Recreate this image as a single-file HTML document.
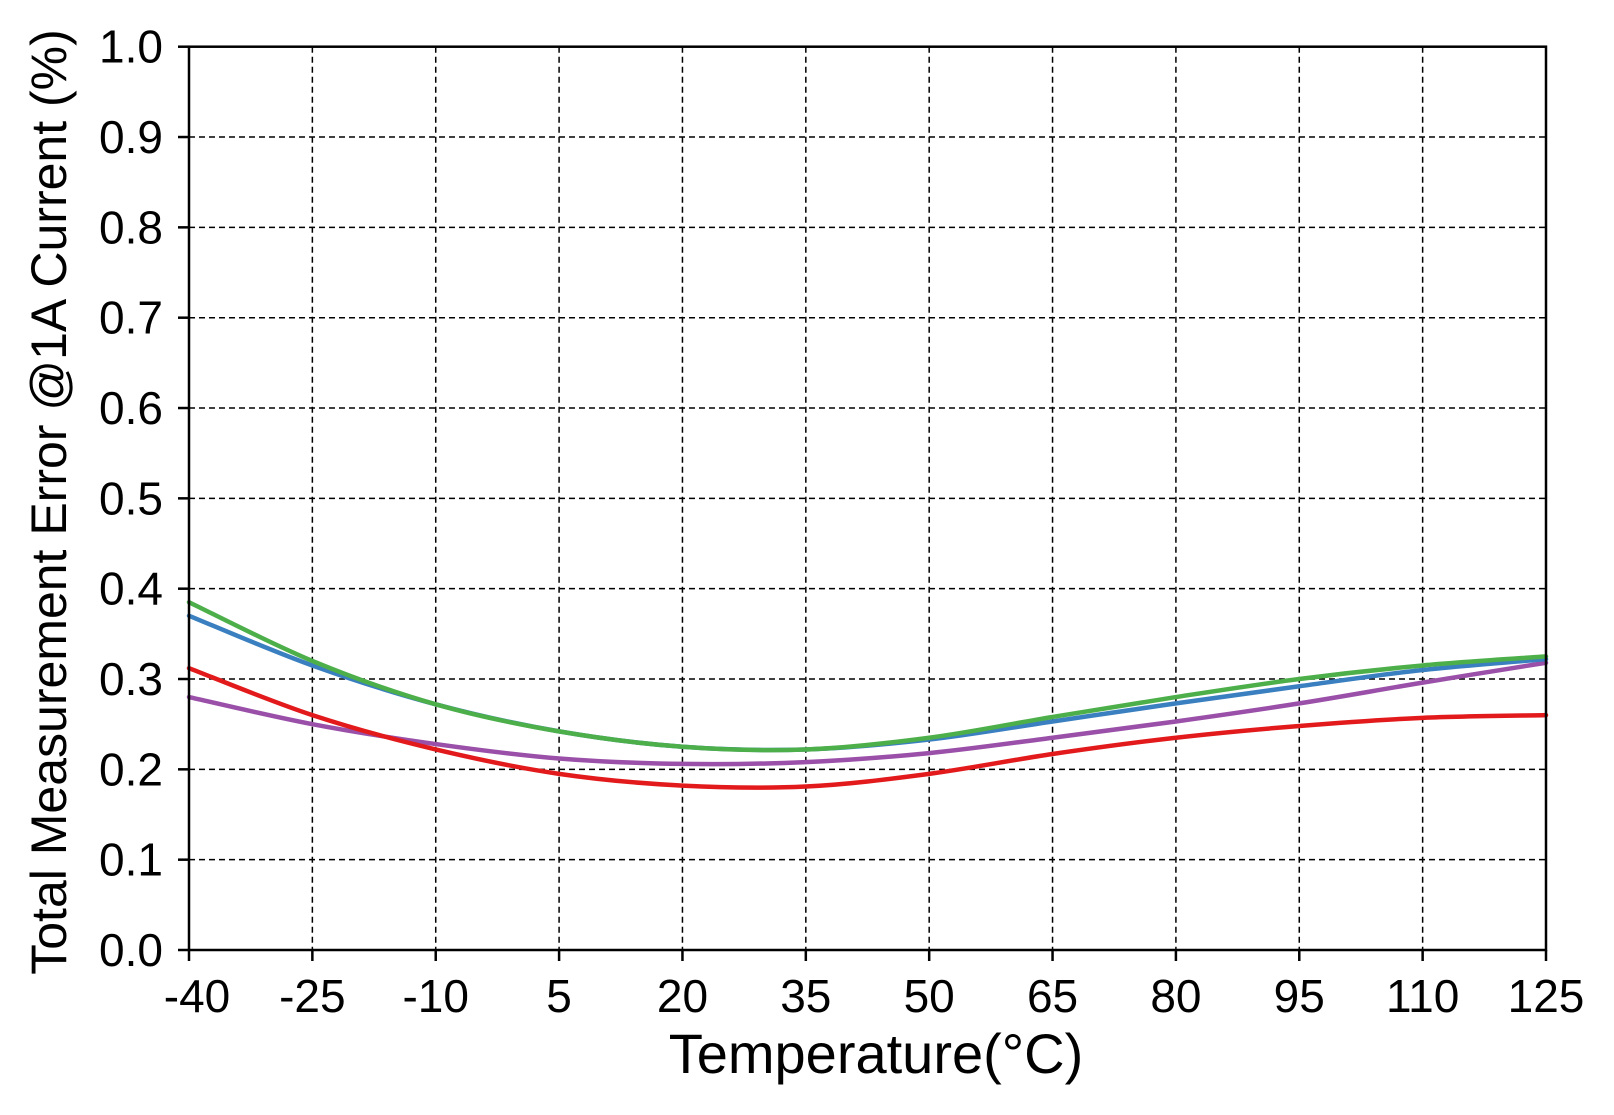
<!DOCTYPE html>
<html><head><meta charset="utf-8"><style>
html,body{margin:0;padding:0;background:#fff;}
svg{display:block;font-family:"Liberation Sans",Arial,sans-serif;}
</style></head><body>
<svg id="s" width="1614" height="1115" viewBox="0 0 1614 1115" xmlns="http://www.w3.org/2000/svg">
<g id="grid" stroke="#000" stroke-width="1.5" stroke-dasharray="6,4"></g>
<g id="curves" fill="none" stroke-width="4.5" stroke-linecap="round"></g>
<rect x="189" y="46.7" width="1357" height="903.3" fill="none" stroke="#000" stroke-width="2.5"/>
<g id="ticks" stroke="#000" stroke-width="2.5"></g>
<g id="labels" font-size="46" fill="#000"></g>
<text x="876" y="1073" font-size="56" text-anchor="middle">Temperature(°C)</text>
<text transform="translate(66,502) rotate(-90)" font-size="50" text-anchor="middle">Total Measurement Error @1A Current (%)</text>
</svg>
<script>
var NS="http://www.w3.org/2000/svg";
function X(t){return 189+(t+40)*1357/165;}
function Y(v){return 950-v*903.3;}
function el(p,tag,a,txt){var e=document.createElementNS(NS,tag);for(var k in a)e.setAttribute(k,a[k]);if(txt!==undefined)e.textContent=txt;document.getElementById(p).appendChild(e);}
var ts=[];for(var t=-40;t<=125;t+=15)ts.push(t);
ts.forEach(function(t,i){var x=X(t);if(i==0)x+=8;
 if(i>0&&i<ts.length-1)el("grid","line",{x1:X(t),y1:46.7,x2:X(t),y2:950});
 el("ticks","line",{x1:X(t),y1:950,x2:X(t),y2:961});
 el("labels","text",{x:x,y:1012,"text-anchor":"middle"},String(t));});
for(var i=0;i<=10;i++){var v=i/10,y=Y(v);
 if(i>0&&i<10)el("grid","line",{x1:189,y1:y,x2:1546,y2:y});
 el("ticks","line",{x1:178,y1:y,x2:189,y2:y});
 el("labels","text",{x:163,y:y+16,"text-anchor":"end"},v.toFixed(1));}
var D={
"#9a4fa8":[0.28,0.25,0.228,0.212,0.206,0.208,0.218,0.235,0.253,0.273,0.296,0.318],
"#e31a1c":[0.312,0.26,0.222,0.195,0.182,0.181,0.195,0.217,0.235,0.248,0.257,0.26],
"#3a7fbf":[0.37,0.315,0.272,0.242,0.225,0.222,0.233,0.253,0.273,0.292,0.31,0.322],
"#4daf4a":[0.385,0.32,0.272,0.242,0.225,0.222,0.235,0.258,0.28,0.3,0.315,0.325]};
for(var c in D){var p=ts.map(function(t,i){return [X(t),Y(D[c][i])];});
 var d="M"+p[0][0]+","+p[0][1];
 for(var i=0;i<p.length-1;i++){var p0=p[Math.max(i-1,0)],p1=p[i],p2=p[i+1],p3=p[Math.min(i+2,p.length-1)];
  d+=" C"+(p1[0]+(p2[0]-p0[0])/6)+","+(p1[1]+(p2[1]-p0[1])/6)+" "+(p2[0]-(p3[0]-p1[0])/6)+","+(p2[1]-(p3[1]-p1[1])/6)+" "+p2[0]+","+p2[1];}
 el("curves","path",{d:d,stroke:c});}
</script>
</body></html>
